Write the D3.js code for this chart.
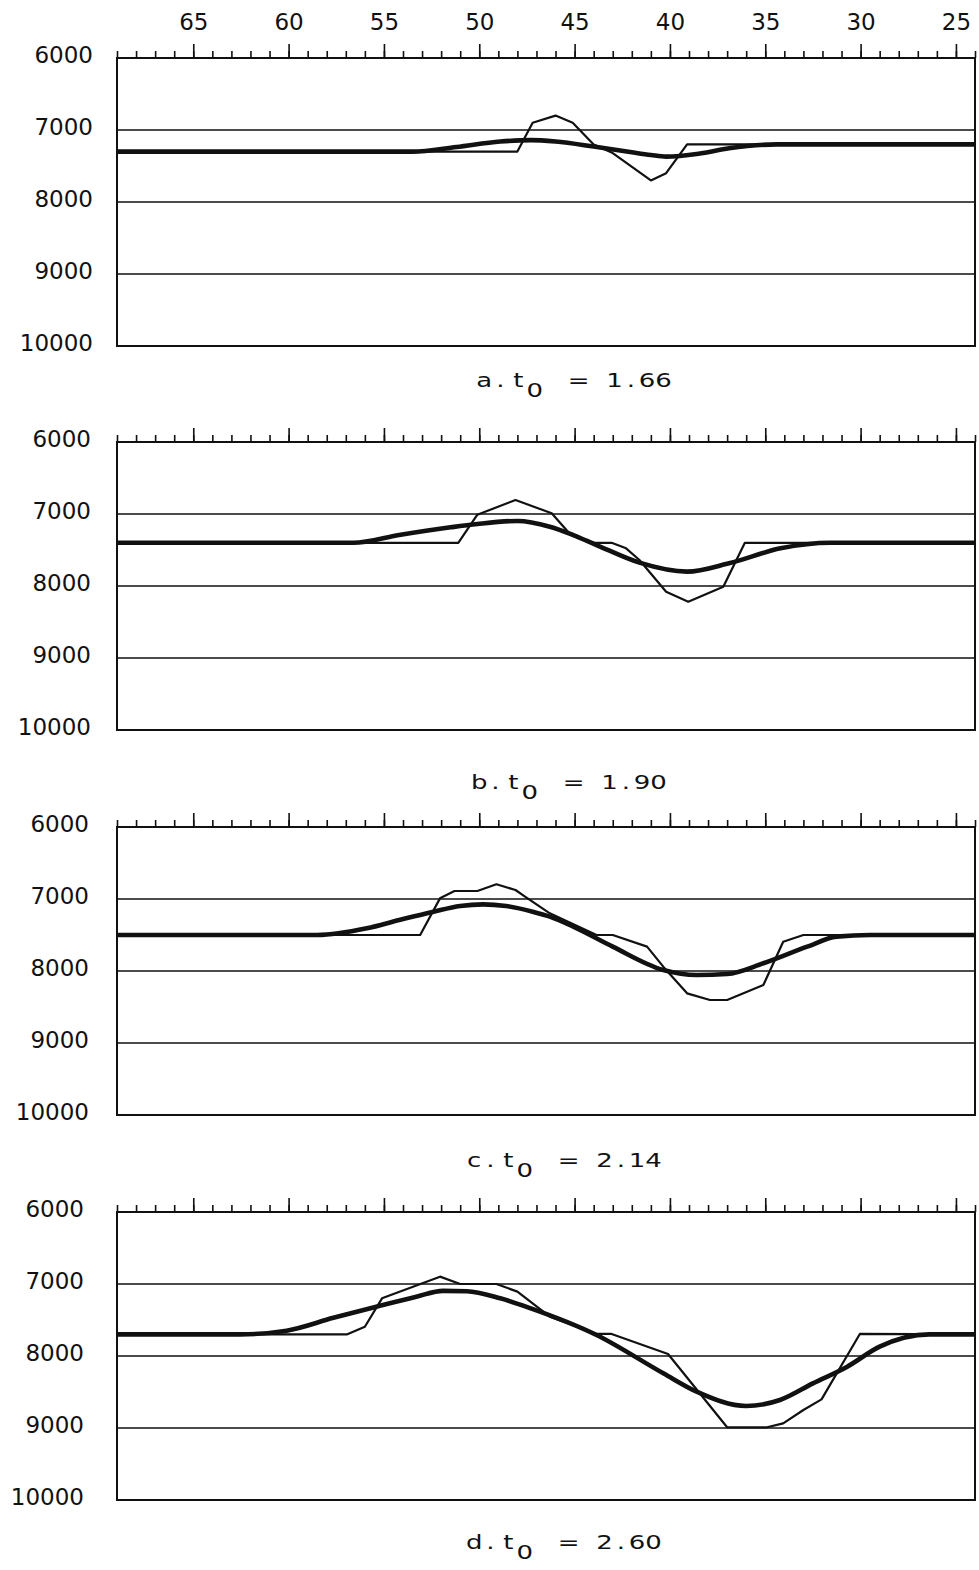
<!DOCTYPE html>
<html>
<head>
<meta charset="utf-8">
<script src="https://cdn.jsdelivr.net/npm/d3@7"></script>
<style>
  html, body { margin: 0; padding: 0; background: #fff; }
  svg { display: block; }
  .axis text { font-family: "DejaVu Sans", sans-serif; font-size: 23px; fill: #111; }
  .cap { font-family: "DejaVu Sans", sans-serif; font-size: 20px; fill: #111; }
</style>
</head>
<body>
<div id="chart"></div>
<script>
// x: reversed scale, y: 6000 at top, 10000 at bottom
var X_DOMAIN = [69, 24];
var Y_DOMAIN = [6000, 10000];
var X_LABELS = [65, 60, 55, 50, 45, 40, 35, 30, 25];
var X_MINOR = d3.range(24, 70);
var Y_TICKS = [6000, 7000, 8000, 9000, 10000];
var GRID = [7000, 8000, 9000];
var LETTERS = ["a", "b", "c", "d"];
var T0 = ["1.66", "1.90", "2.14", "2.60"];

// thin (piecewise) series, [x, y]
var THIN_A = [[69,7300],[48,7300],[47.2,6900],[46,6800],[45.1,6900],[44,7200],[43,7320],
  [41,7700],[40.2,7600],[39.1,7200],[24,7200]];
var THIN_B = [[69,7400],[51.1,7400],[50.1,7010],[48.1,6806],[46.2,6990],[45.2,7292],[44.1,7400],
  [43.06,7400],[42.3,7477],[41.6,7639],[40.2,8079],[39.04,8218],[37.2,8009],[36.07,7400],[24,7400]];
var THIN_C = [[69,7500],[53.1,7500],[52.06,6991],[51.3,6889],[50.1,6889],[49.1,6796],[48.1,6875],
  [47.6,6968],[46.3,7199],[43.85,7500],[43.0,7500],[41.2,7662],[40.35,7940],[39.1,8310],
  [37.9,8403],[37.0,8403],[35.1,8194],[34.06,7593],[33.0,7500],[24,7500]];
var THIN_D = [[69,7700],[56.95,7700],[56.0,7593],[55.1,7199],[52.06,6898],[51.0,7000],[49.1,7000],
  [48.0,7106],[46.3,7454],[43.85,7694],[43.06,7694],[40.1,7972],[37.0,8990],[34.9,8990],
  [34.06,8935],[33.0,8750],[32.05,8602],[30.04,7694],[24,7700]];

// thick (smooth) series
var THICK_A = [[69,7300],[53.5,7300],[51.2,7236],[48.9,7160],[47.3,7140],[46,7160],[44,7230],
  [42,7310],[41,7347],[40.2,7370],[38.5,7330],[36.9,7254],[34.4,7200],[24,7200]];
var THICK_B = [[69,7400],[56.6,7400],[54.2,7292],[51.5,7185],[50.1,7139],[48,7097],[46.3,7176],
  [45.07,7292],[43.85,7431],[41.6,7676],[39.1,7801],[36.9,7685],[34.2,7477],[31.6,7400],[24,7400]];
var THICK_C = [[69,7500],[58.5,7500],[55.9,7407],[54.2,7292],[52.4,7176],[51.0,7097],[49.8,7074],
  [48.6,7097],[47.2,7176],[46.3,7245],[45.07,7384],[43.0,7662],[40.35,7986],[38.6,8056],
  [37.0,8042],[35.1,7893],[32.8,7662],[31.26,7523],[29.5,7500],[24,7500]];
var THICK_D = [[69,7700],[62.55,7700],[60.1,7648],[57.65,7470],[55.4,7315],[53.3,7176],[51.9,7095],
  [50.66,7100],[48.9,7199],[47.3,7338],[43.85,7708],[40.35,8240],[38.6,8495],[36.0,8694],
  [34.23,8611],[32.5,8380],[30.7,8148],[29.0,7870],[26.4,7700],[24,7700]];

var THIN = [THIN_A, THIN_B, THIN_C, THIN_D];
var THICK = [THICK_A, THICK_B, THICK_C, THICK_D];

// ---- layout ---------------------------------------------------------------
var W = 979, H = 1570, L = 117, R = 975, PH = 288;
var TOPS = [58, 442, 827, 1212];
var YLAB_RIGHT = [93, 91, 89, 84];
var CAP_X = [476, 471, 466, 466];
var CAP_Y = [387, 789, 1167, 1549];
// typewriter caption: character cells (pitch) and a horizontal stretch
var PITCH = 16.3, STRETCH = 1.3, SUB_DY = 10;

var svg = d3.select("#chart").append("svg").attr("width", W).attr("height", H);
var x = d3.scaleLinear().domain(X_DOMAIN).range([L, R]);

function caption(i) {
  // cells: letter . t  0(sub)  =  1 . 6 6
  var chars = [LETTERS[i], ".", "t", "0", "="].concat(T0[i].split(""));
  var cells = [0, 1, 2.1, 3.1, 5.8, 8, 9, 10, 11];
  var g = svg.append("g")
    .attr("transform", "translate(" + CAP_X[i] + "," + CAP_Y[i] + ") scale(" + STRETCH + ",1)");
  var t = g.append("text").attr("class", "cap").attr("text-anchor", "middle");
  chars.forEach(function (c, k) {
    t.append("tspan")
      .attr("x", (cells[k] + 0.5) * PITCH / STRETCH)
      .attr("y", k === 3 ? SUB_DY : 0)
      .text(c);
  });
}

TOPS.forEach(function (top, i) {
  var y = d3.scaleLinear().domain(Y_DOMAIN).range([top, top + PH]);
  var g = svg.append("g");

  // grid lines
  g.selectAll("line.grid").data(GRID).enter().append("line")
    .attr("x1", L).attr("x2", R)
    .attr("y1", function (d) { return y(d); }).attr("y2", function (d) { return y(d); })
    .attr("stroke", "#111").attr("stroke-width", 1.6);

  // frame
  g.append("rect").attr("x", L).attr("y", top).attr("width", R - L).attr("height", PH)
    .attr("fill", "none").attr("stroke", "#111").attr("stroke-width", 2);

  // top ruler ticks
  var minor = g.append("g").attr("class", "axis").attr("transform", "translate(0," + top + ")")
    .call(d3.axisTop(x).tickValues(X_MINOR).tickSize(7).tickSizeOuter(0).tickFormat(""));
  var major = g.append("g").attr("class", "axis").attr("transform", "translate(0," + top + ")")
    .call(d3.axisTop(x).tickValues(X_LABELS).tickSize(14).tickSizeOuter(0).tickPadding(14)
      .tickFormat(i === 0 ? d3.format("d") : function () { return ""; }));
  [minor, major].forEach(function (a) {
    a.select(".domain").remove();
    a.selectAll("line").attr("stroke", "#111").attr("stroke-width", 1.6);
  });

  // y labels
  var ya = g.append("g").attr("class", "axis").attr("transform", "translate(" + L + ",0)")
    .call(d3.axisLeft(y).tickValues(Y_TICKS).tickSize(0).tickPadding(L - YLAB_RIGHT[i])
      .tickFormat(d3.format("d")));
  ya.select(".domain").remove();
  ya.selectAll("text").attr("dy", "0.19em");

  // series
  var thin = d3.line().x(function (d) { return x(d[0]); }).y(function (d) { return y(d[1]); });
  var thick = d3.line().curve(d3.curveMonotoneX)
    .x(function (d) { return x(d[0]); }).y(function (d) { return y(d[1]); });
  g.append("path").datum(THIN[i]).attr("d", thin)
    .attr("fill", "none").attr("stroke", "#111").attr("stroke-width", 2.2)
    .attr("stroke-linejoin", "round");
  g.append("path").datum(THICK[i]).attr("d", thick)
    .attr("fill", "none").attr("stroke", "#111").attr("stroke-width", 4.6)
    .attr("stroke-linejoin", "round");

  caption(i);
});
</script>
</body>
</html>
